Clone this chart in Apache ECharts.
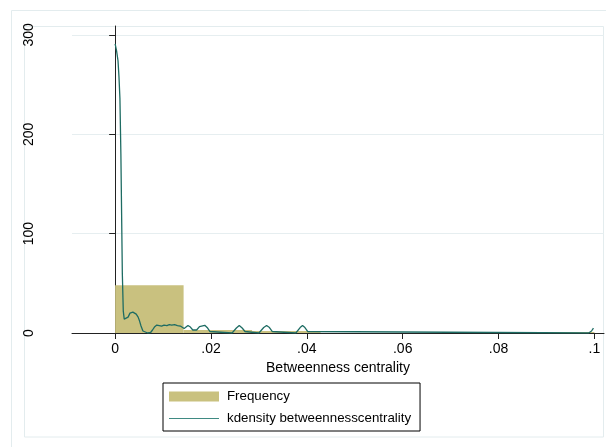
<!DOCTYPE html>
<html><head><meta charset="utf-8">
<script src="https://cdn.jsdelivr.net/npm/echarts@6/dist/echarts.min.js"></script>
<style>html,body{margin:0;padding:0;background:#fff}#c{width:606px;height:447px}</style>
</head><body><div id="c"></div><script>
// Histogram bins (Betweenness centrality) and frequencies
const binStart = [0, 0.014286, 0.028571, 0.042857, 0.057143, 0.071429, 0.085714];
const binEnd   = [0.014286, 0.028571, 0.042857, 0.057143, 0.071429, 0.085714, 0.1];
const frequency = [48, 3, 2, 0, 0, 0, 1];

// kdensity curve
const kdX = [0,0.0003,0.0006,0.0008,0.001,0.0012,0.00135,0.0015,0.0017,0.0019,0.0023,0.0027,0.0031,0.0034,0.0037,0.004,0.0044,0.0048,0.0051,0.0054,0.0058,0.0062,0.0068,0.0074,0.0078,0.0082,0.0087,0.0092,0.0097,0.0102,0.0108,0.0113,0.0118,0.0124,0.013,0.0136,0.014,0.0144,0.0148,0.0152,0.0157,0.0162,0.0166,0.017,0.0176,0.018,0.0187,0.0193,0.0198,0.0202,0.0244,0.0248,0.0253,0.0259,0.0265,0.0271,0.0275,0.03,0.0304,0.031,0.0316,0.0322,0.0328,0.0332,0.0377,0.0381,0.0386,0.0391,0.0396,0.0402,0.0406,0.0988,0.0991,0.0994,0.0997,0.0998];
const kdY = [291,284,274,258,236,180,120,60,22,14,14,16,20,22,21,21,19,16,12,7,2,0.3,0,0.5,3,6,8,7.5,7,8,7.5,8.5,8,8.5,7.5,7,6,4.5,6.5,7.5,6,3,2,3,6.5,7.5,7.7,5,1.5,0,0,1.5,5,7.5,5,1.5,0,0,1.5,5.5,7.5,5.5,1.5,0,0,1.5,5.5,7.5,5.5,1.5,0,0,0.5,2,4,5];

const xTicks = [0, 0.02, 0.04, 0.06, 0.08, 0.1];
const xTickLabels = ['0', '.02', '.04', '.06', '.08', '.1'];
const yTicks = [0, 100, 200, 300];
const yTickLabels = ['0', '100', '200', '300'];

const xTitle = 'Betweenness centrality';
const seriesNames = ['Frequency', 'kdensity betweennesscentrality'];

const FONT = '"Liberation Sans", Arial, sans-serif';
const BAR = '#C9C17F';
const LINE = '#1E6C63';
const chart = echarts.init(document.getElementById('c'), null, {renderer: 'canvas'});

const histData = binStart.map((s, i) => [s, binEnd[i], frequency[i]]);
const kdData = kdX.map((x, i) => [x, kdY[i]]);

chart.setOption({
  animation: false,
  backgroundColor: '#fff',
  graphic: [
    {type: 'rect', z: -10, silent: true, shape: {x: 11.5, y: 10.5, width: 620, height: 460}, style: {fill: 'none', stroke: '#E3ECEE', lineWidth: 1}},
    {type: 'rect', z: -10, silent: true, shape: {x: 24.5, y: 26.5, width: 579, height: 410.5}, style: {fill: 'none', stroke: '#E3ECEE', lineWidth: 1}}
  ],
  grid: {left: 72, right: 2, top: 26, bottom: 114, containLabel: false},
  xAxis: {
    type: 'value', min: -0.009, max: 0.102,
    name: xTitle, nameLocation: 'middle', nameGap: 26,
    nameTextStyle: {fontFamily: FONT, fontSize: 14, color: '#000'},
    axisLine: {show: true, onZero: false, lineStyle: {color: '#222', width: 1}},
    axisTick: {show: true, length: 6, customValues: xTicks, lineStyle: {color: '#222'}},
    axisLabel: {customValues: xTicks, margin: 9, fontFamily: FONT, fontSize: 14, color: '#000',
      formatter: v => { const i = xTicks.findIndex(t => Math.abs(t - v) < 1e-9); return i >= 0 ? xTickLabels[i] : ''; }},
    splitLine: {show: false}
  },
  yAxis: {
    type: 'value', min: 0, max: 309,
    axisLine: {show: true, lineStyle: {color: '#222', width: 1}},
    axisTick: {show: true, length: 6, customValues: yTicks, lineStyle: {color: '#222'}},
    axisLabel: {customValues: yTicks, rotate: 90, margin: 36, fontFamily: FONT, fontSize: 14, color: '#000',
      formatter: v => { const i = yTicks.indexOf(v); return i >= 0 ? yTickLabels[i] : ''; }},
    splitLine: {show: true, lineStyle: {color: '#E6EEF0', width: 1}}
  },
  legend: {
    orient: 'vertical', left: 163, top: 383,
    borderColor: '#000', borderWidth: 1, padding: [7, 9, 6, 6],
    itemWidth: 50, itemHeight: 10, itemGap: 9,
    textStyle: {fontFamily: FONT, fontSize: 13.3, color: '#000', padding: [0, 0, 0, 3]},
    data: [
      {name: seriesNames[0], icon: 'rect', itemStyle: {color: BAR}},
      {name: seriesNames[1], icon: 'path://M0,0M50,10M0,4.4L50,4.4L50,5.6L0,5.6Z', itemStyle: {color: '#3F8A82'}}
    ]
  },
  series: [
    {
      name: seriesNames[0], type: 'custom',
      itemStyle: {color: BAR},
      encode: {x: [0, 1], y: 2},
      data: histData,
      renderItem: (params, api) => {
        const p0 = api.coord([api.value(0), 0]);
        const p1 = api.coord([api.value(1), api.value(2)]);
        return {type: 'rect', shape: {x: p0[0], y: p1[1], width: p1[0] - p0[0], height: p0[1] - p1[1]},
          style: {fill: BAR}};
      },
      z: 2
    },
    {
      name: seriesNames[1], type: 'line', data: kdData,
      symbol: 'none', showSymbol: false,
      lineStyle: {color: LINE, width: 1.3},
      itemStyle: {color: LINE},
      z: 3
    }
  ]
});
</script></body></html>
